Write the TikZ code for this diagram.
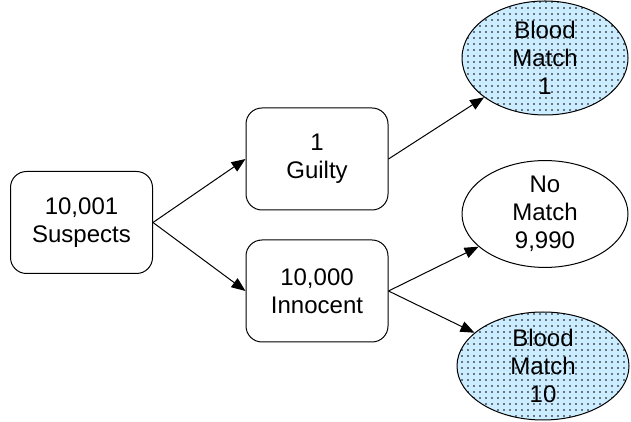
\documentclass[tikz,border=0pt]{standalone}
\usepackage{fontspec}
\setmainfont{Liberation Sans}
\usetikzlibrary{shapes.geometric,patterns.meta,arrows.meta}
\definecolor{paleblue}{HTML}{CCECFF}

\begin{document}
\begin{tikzpicture}[x=1pt, y=1pt,
  every node/.style={font=\fontsize{24}{28}\selectfont, align=center, inner sep=0pt},
  box/.style={draw, rounded corners=16pt, minimum width=142pt, minimum height=102pt, line width=1pt},
  blob/.style={draw, ellipse, minimum width=166pt, minimum height=108pt, line width=1pt},
  blood/.style={blob, fill=paleblue, postaction={pattern={Dots[distance=6pt, radius=0.9pt]}}},
  arr/.style={-{Triangle[length=14pt, width=11pt]}, line width=1pt}]

\useasboundingbox (0,0) rectangle (631,422);

% Left and middle boxes
\node[box] (suspects) at (81.5,199.5) {10,001\\Suspects};
\node[box] (guilty) at (317,263) {1\\Guilty};
\node[box] (innocent) at (317,131) {10,000\\Innocent};

% Outcomes
\node[blood, minimum height=114pt] (match1) at (545,364) {Blood\\Match\\1};
\node[blob, minimum height=106pt] (nomatch) at (545,208) {No\\Match\\9,990};
\node[blood, minimum width=172pt] (match10) at (543,56) {Blood\\Match\\10};

\draw[arr] (suspects.east) -- (guilty.west);
\draw[arr] (suspects.east) -- (innocent.west);
\draw[arr] (guilty.east) -- (match1);
\draw[arr] (innocent.east) -- (nomatch);
\draw[arr] (innocent.east) -- (match10);

\end{tikzpicture}
\end{document}
